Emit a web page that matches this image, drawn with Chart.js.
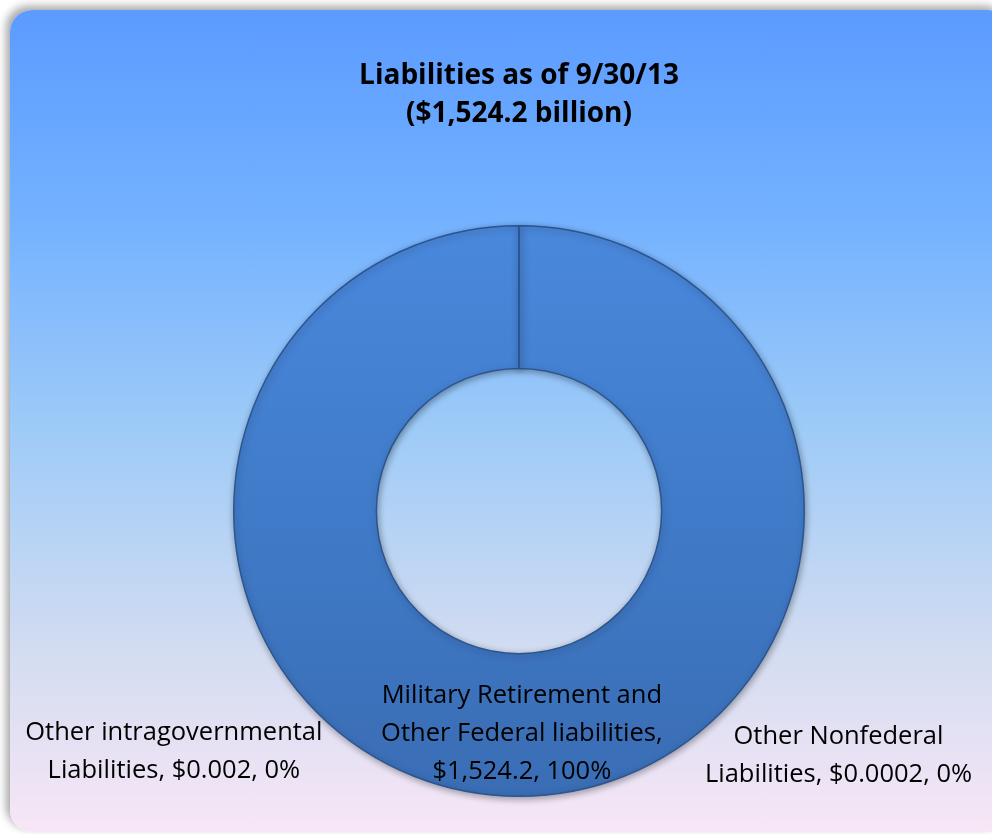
<!DOCTYPE html>
<html>
<head>
<meta charset="utf-8">
<script src="https://cdn.jsdelivr.net/npm/chart.js@4.4.0/dist/chart.umd.min.js"></script>
<style>
  html, body { margin: 0; padding: 0; background: #ffffff; overflow: hidden; }
  #panel {
    position: absolute; left: 10px; top: 10px; width: 1000px; height: 822px;
    border-radius: 22px;
    background: linear-gradient(to bottom, #5b9bff 0%, #73b1ff 25%, #9ccaf8 50%, #d3dcf1 78%, #f7e6f6 100%);
    box-shadow: -4px -4px 8px rgba(0,0,0,0.35);
  }
  #wrap { position: absolute; left: 0; top: 0; width: 992px; height: 834px; }
</style>
</head>
<body>
<div id="panel"></div>
<div id="wrap"><canvas id="liabChart" width="992" height="834"></canvas></div>
<script>
const categories = ["Other Nonfederal Liabilities", "Military Retirement and Other Federal liabilities", "Other intragovernmental Liabilities"];
const values = [0.0002, 1524.2, 0.002];
const labelLines = [
  ["Other Nonfederal", "Liabilities, $0.0002, 0%"],
  ["Military Retirement and", "Other Federal liabilities,", "$1,524.2, 100%"],
  ["Other intragovernmental", "Liabilities, $0.002, 0%"],
];
const titleLines = ["Liabilities as of 9/30/13", "($1,524.2 billion)"];

const FONT = "'Open Sans', sans-serif";

// label anchors as offsets from the doughnut centre, in units of outer radius
const labelOffsets = [[1.12, 0.857], [0.01, 0.78], [-1.21, 0.843]];

const shadowPlugin = {
  id: "shadowPlugin",
  beforeDatasetsDraw(chart) {
    const c = chart.ctx;
    c.save();
    c.shadowColor = "rgba(0,0,0,0.35)";
    c.shadowBlur = 7;
    c.shadowOffsetX = 1;
    c.shadowOffsetY = 2;
  },
  afterDatasetsDraw(chart) {
    chart.ctx.restore();
  }
};

const labelPlugin = {
  id: "labelPlugin",
  afterDraw(chart) {
    const ctx = chart.ctx;
    const arc = chart.getDatasetMeta(0).data[1];
    const cx = arc.x, cy = arc.y, r = arc.outerRadius;
    ctx.save();
    ctx.fillStyle = "#000000";
    ctx.textAlign = "center";
    ctx.textBaseline = "middle";
    ctx.font = "bold 28px " + FONT;
    titleLines.forEach((t, i) => ctx.fillText(t, cx, 76 + i * 38));
    ctx.font = "25.5px " + FONT;
    labelLines.forEach((lines, k) => {
      const [ox, oy] = labelOffsets[k];
      const x = cx + ox * r;
      const y0 = cy + oy * r - (lines.length - 1) * 19;
      lines.forEach((l, i) => ctx.fillText(l, x, y0 + i * 38));
    });
    ctx.restore();
  }
};

const ctx = document.getElementById("liabChart").getContext("2d");
new Chart(ctx, {
  type: "doughnut",
  data: {
    labels: categories,
    datasets: [{
      data: values,
      backgroundColor: function (context) {
        const area = context.chart.chartArea;
        if (!area) return "#4480d0";
        const g = context.chart.ctx.createLinearGradient(0, area.top, 0, area.bottom);
        g.addColorStop(0, "#4a88dc");
        g.addColorStop(0.5, "#407bc9");
        g.addColorStop(1, "#3a6db4");
        return g;
      },
      borderColor: "#2a5590",
      borderWidth: 1.5,
    }],
  },
  options: {
    responsive: false,
    animation: false,
    cutout: "50%",
    layout: { padding: { left: 233, right: 187, top: 225, bottom: 37 } },
    plugins: {
      legend: { display: false },
      tooltip: { enabled: false },
      title: { display: false },
    },
  },
  plugins: [shadowPlugin, labelPlugin],
});
</script>
</body>
</html>
